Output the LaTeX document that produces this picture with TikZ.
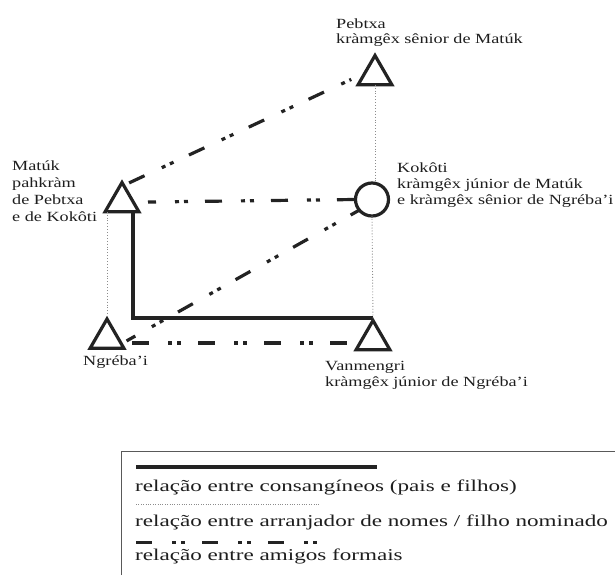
\documentclass[tikz,border=0pt]{standalone}
\usepackage{fontspec}
\setmainfont{Liberation Serif}[FakeStretch=1.3]
\newfontfamily\legfont{Liberation Serif}[FakeStretch=1.4]
\usetikzlibrary{shapes.geometric,calc}
\definecolor{ink}{HTML}{232323}
\definecolor{txt}{HTML}{1E1E1E}
\definecolor{dotc}{HTML}{8C8C8C}
\begin{document}
\begin{tikzpicture}[x=1pt,y=-1pt,
  tri/.style={regular polygon, regular polygon sides=3, draw=ink, line width=3.2pt, minimum size=39pt, inner sep=0pt, outer sep=0pt},
  ring/.style={circle, draw=ink, line width=3.2pt, minimum size=33pt, inner sep=0pt, outer sep=0pt},
  kin/.style={draw=ink, line width=4pt},
  namer/.style={draw=dotc, line width=0.9pt, dash pattern=on 0.9pt off 2pt},
  friend/.style={draw=ink, line width=3.2pt, dash pattern=on 17pt off 19pt on 4pt off 5pt on 4pt off 17pt},
  lbl/.style={anchor=north west, inner sep=0pt, align=left, text=txt, font=\fontsize{14}{16}\selectfont},
  leg/.style={anchor=base west, inner sep=0pt, text=txt, font=\legfont\fontsize{16.5}{20}\selectfont},
  boxline/.style={draw=gray!70!black, line width=0.9pt},
]
\useasboundingbox (0,0) rectangle (615,575);
\fill[white] (0,0) rectangle (615,575);

% persons
\node[tri]  (Pebtxa) at (375,75)    {};
\node[tri]  (Matuk)  at (122,202)   {};
\node[ring] (Kokoti) at (372,199.5) {};
\node[tri]  (Ngreba) at (107,338.5) {};
\node[tri]  (Van)    at (373,340)   {};

% labels
\node[lbl, font=\fontsize{14}{15}\selectfont] (tPebtxa) at (336,19) {Pebtxa\\kràmgêx sênior de Matúk};
\node[lbl, font=\fontsize{14}{17}\selectfont] (tMatuk) at (12,161) {Matúk\\pahkràm\\de Pebtxa\\e de Kokôti};
\node[lbl] (tKokoti) at (397,163) {Kokôti\\kràmgêx júnior de Matúk\\e kràmgêx sênior de Ngréba'i};
\node[lbl] (tNgreba) at (83,356) {Ngréba'i};
\node[lbl] (tVan) at (325,361) {Vanmengri\\kràmgêx júnior de Ngréba'i};

% consanguine relation
\draw[kin] ($(Matuk.side 2)+(11,0)$) |- ($(Van.corner 1)+(0,-3)$);

% name-giver relations
\draw[namer] (Pebtxa.side 2) -- (Pebtxa.side 2 |- Kokoti.north);
\draw[namer] (Kokoti.south) -- (Van.corner 1);
\draw[namer] (Ngreba.corner 1 |- Matuk.side 2) -- (Ngreba.corner 1);

% formal friends
\draw[friend, shorten <=6pt, shorten >=15pt]
  ($(Matuk.corner 1)!0.1!(Matuk.corner 3)$) -- ($(Pebtxa.corner 1)!0.6!(Pebtxa.corner 2)$);
\draw[friend, dash phase=9pt] ([xshift=26pt]Matuk.center) -- (Kokoti.west);
\draw[friend, dash phase=7pt, shorten <=6pt]
  ($(Ngreba.corner 3)!0.15!(Ngreba.corner 1)$) -- (Kokoti.220);
\draw[friend] ($(Ngreba.center)+(25,4.5)$) -- ($(Van.center)+(-17,3)$);

% legend
\draw[boxline] (121,575) -- (121,451) -- (615,451);
\coordinate (k1) at (136,467);
\coordinate (k2) at (377,467);
\draw[kin] (k1) -- (k2);
\node[leg] (l1) at (135,491) {relação entre consangíneos (pais e filhos)};
\coordinate (n1) at (136,504);
\coordinate (n2) at (320,504);
\draw[namer, line width=0.8pt, dash pattern=on 0.8pt off 1.6pt] (n1) -- (n2);
\node[leg] (l2) at (135,526) {relação entre arranjador de nomes / filho nominado};
\coordinate (f1) at (136,542);
\coordinate (f2) at (322,542);
\draw[friend, line width=3pt, dash pattern=on 16pt off 20pt on 4pt off 5pt on 4pt off 17pt] (f1) -- (f2);
\node[leg] (l3) at (135,560) {relação entre amigos formais};
\end{tikzpicture}
\end{document}
